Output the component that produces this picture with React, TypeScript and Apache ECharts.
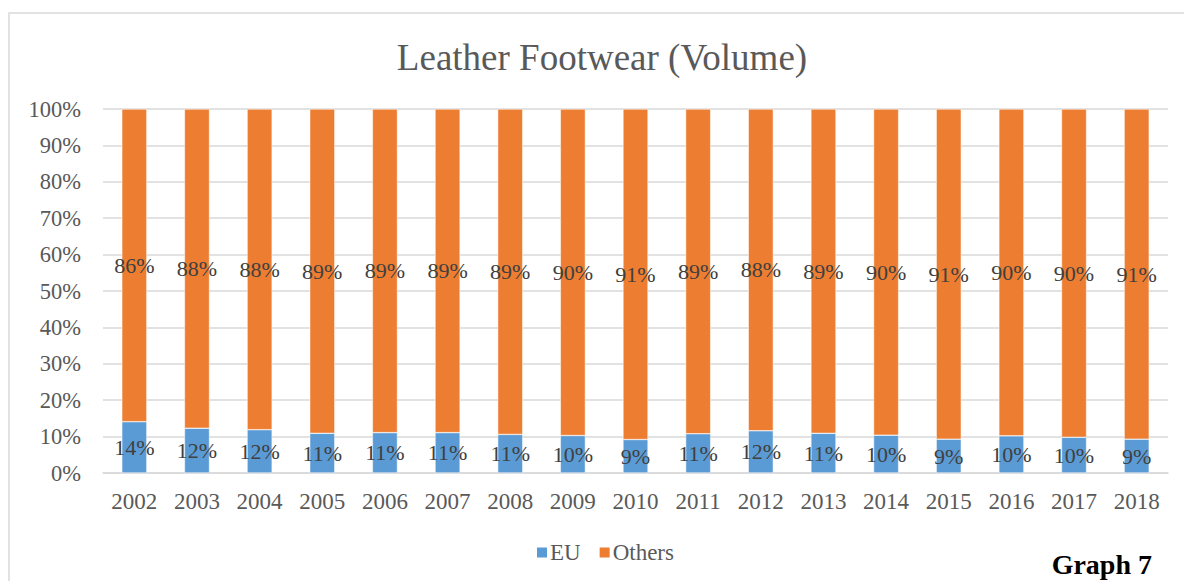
import React, { useEffect, useRef } from "react";
import * as echarts from "echarts";

const years = ["2002", "2003", "2004", "2005", "2006", "2007", "2008", "2009", "2010", "2011", "2012", "2013", "2014", "2015", "2016", "2017", "2018"];
const euShare = [14.1, 12.3, 11.9, 10.9, 11.1, 11.1, 10.6, 10.3, 9.2, 10.8, 11.6, 10.9, 10.4, 9.3, 10.2, 9.8, 9.3];
const othersShare = [85.9, 87.7, 88.1, 89.1, 88.9, 88.9, 89.4, 89.7, 90.8, 89.2, 88.4, 89.1, 89.6, 90.7, 89.8, 90.2, 90.7];
const yTicks = [0, 10, 20, 30, 40, 50, 60, 70, 80, 90, 100];

const FONT = "Liberation Serif";

export default function App() {
  const ref = useRef<HTMLDivElement>(null);
  useEffect(() => {
    if (!ref.current) return;
    const chart = echarts.init(ref.current, undefined, { renderer: "svg" });
    const labelStyle = {
      show: true,
      position: "inside" as const,
      color: "#404040",
      fontFamily: FONT,
      fontSize: 22,
      formatter: (p: any) => Math.round(p.value) + "%",
    };
    chart.setOption({
      animation: false,
      backgroundColor: "#ffffff",
      textStyle: { fontFamily: FONT },
      graphic: [
        {
          type: "rect",
          shape: { x: 9, y: 13, width: 1200, height: 600 },
          style: { fill: "none", stroke: "#d9d9d9", lineWidth: 1.5 },
          silent: true,
        },
        {
          type: "text",
          x: 602,
          y: 57,
          style: {
            text: "Leather Footwear (Volume)",
            fill: "#595959",
            fontFamily: FONT,
            fontSize: 37,
            textAlign: "center",
            textVerticalAlign: "middle",
          },
        },
        {
          type: "text",
          x: 1152,
          y: 564,
          style: {
            text: "Graph 7",
            fill: "#000000",
            fontFamily: FONT,
            fontWeight: "bold",
            fontSize: 28,
            textAlign: "right",
            textVerticalAlign: "middle",
          },
        },
      ],
      legend: {
        left: 530,
        top: 536,
        icon: "rect",
        itemWidth: 12,
        itemHeight: 12,
        itemGap: 17,
        textStyle: { color: "#595959", fontFamily: FONT, fontSize: 23, padding: [0, 0, 0, -3] },
        data: ["EU", "Others"],
      },
      grid: { left: 103, right: 16, top: 109, bottom: 108, containLabel: false },
      xAxis: {
        type: "category",
        data: years,
        axisLine: { lineStyle: { color: "#d9d9d9", width: 1.5 } },
        axisTick: { show: false },
        axisLabel: { color: "#595959", fontFamily: FONT, fontSize: 23, margin: 17 },
      },
      yAxis: {
        type: "value",
        min: 0,
        max: 100,
        interval: 10,
        axisLine: { show: false },
        axisTick: { show: false },
        splitLine: { lineStyle: { color: "#d9d9d9", width: 1.5 } },
        axisLabel: {
          color: "#595959",
          fontFamily: FONT,
          fontSize: 22.5,
          margin: 22,
          formatter: (v: number) => (yTicks.includes(v) ? v + "%" : ""),
        },
      },
      series: [
        {
          name: "EU",
          type: "bar",
          stack: "total",
          data: euShare,
          barWidth: "40%",
          itemStyle: { color: "#5b9bd5", borderColor: "#ffffff", borderWidth: 0.5 },
          label: labelStyle,
        },
        {
          name: "Others",
          type: "bar",
          stack: "total",
          data: othersShare,
          barWidth: "40%",
          itemStyle: { color: "#ed7d31", borderColor: "#ffffff", borderWidth: 0.5 },
          label: labelStyle,
        },
      ],
    });
    return () => chart.dispose();
  }, []);
  return (
    <div
      ref={ref}
      style={{ position: "fixed", left: 0, top: 0, width: 1184, height: 581 }}
    />
  );
}
